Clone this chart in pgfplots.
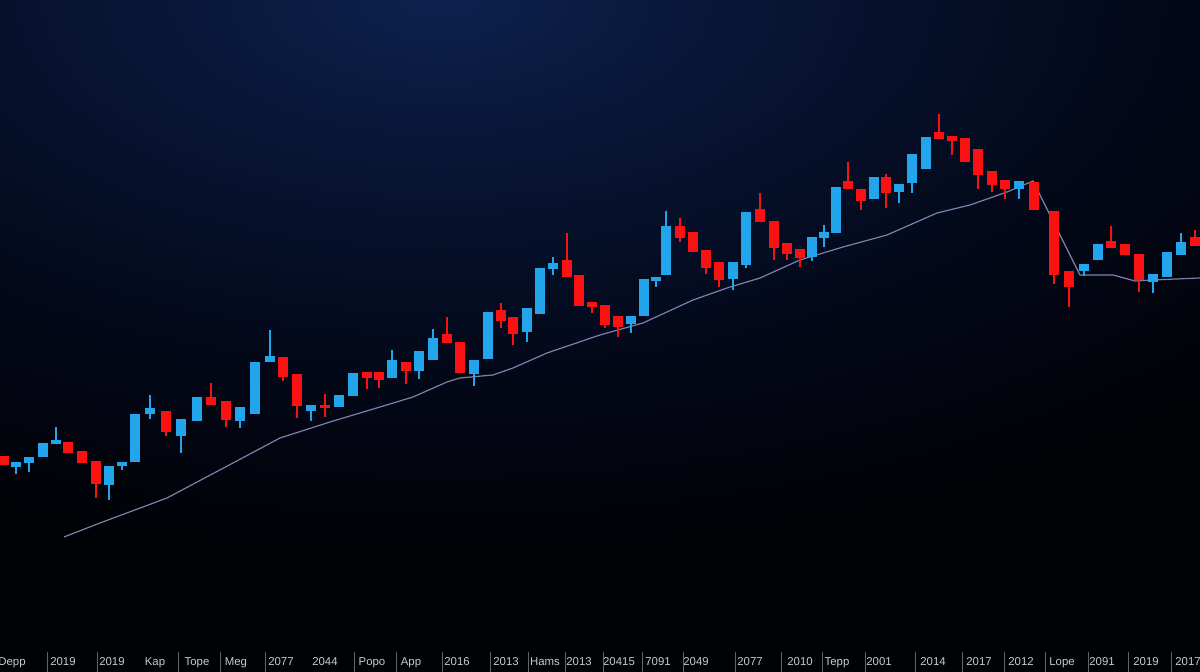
\documentclass[border=0pt]{standalone}
\usepackage{pgfplots}
\pgfplotsset{compat=1.18}
\usepackage{pgfplotstable}
\usepackage{fontspec}
\setmainfont{Liberation Sans}

\definecolor{upc}{RGB}{35,165,235}
\definecolor{downc}{RGB}{250,18,18}
\definecolor{magray}{RGB}{125,128,172}
\definecolor{lblgray}{RGB}{200,202,208}
\definecolor{sepgray}{RGB}{95,100,110}
\definecolor{glow0}{RGB}{13,34,80}
\definecolor{glow1}{RGB}{10,27,64}
\definecolor{glow2}{RGB}{6,17,44}
\definecolor{glow3}{RGB}{3,7,22}
\definecolor{glow4}{RGB}{1,2,6}

\pgfdeclareradialshading{bgglow}{\pgfpoint{0bp}{0bp}}{%
  color(0bp)=(glow0); color(15bp)=(glow1); color(40bp)=(glow2);
  color(70bp)=(glow3); color(100bp)=(glow4)}

% x open high low close
\pgfplotstableread{
x o h l c
16 205 210 198 210
29 209 215 200 215
43 215 229 215 229
56 228 245 228 232
109 187 206 172 206
122 206 210 202 210
135 210 258 210 258
150 258 277 253 264
181 236 253 219 253
197 251 275 251 275
240 251 265 244 265
255 258 310 258 310
270 310 342 310 316
311 261 267 251 267
339 265 277 265 277
353 276 299 276 299
392 294 322 294 312
419 301 321 293 321
433 312 343 312 334
474 298 312 286 312
488 313 360 313 360
527 340 364 330 364
540 358 404 358 404
553 403 415 397 409
631 348 356 339 356
644 356 393 356 393
656 391 395 385 395
666 397 461 397 446
733 393 410 382 410
746 407 460 404 460
812 415 435 411 435
824 434 447 425 440
836 439 485 439 485
874 473 495 473 495
899 480 488 469 488
912 489 518 479 518
926 503 535 503 535
1019 483 491 473 491
1084 401 408 396 408
1098 412 428 412 428
1153 390 398 379 398
1167 395 420 395 420
1181 417 439 417 430
}\upt

\pgfplotstableread{
x o h l c
4 216 216 207 207
68 230 230 219 219
82 221 221 209 209
96 211 211 174 188
166 261 261 236 240
211 275 289 267 267
226 271 271 245 252
283 315 315 291 295
297 298 298 254 266
325 267 278 255 264
367 300 300 283 294
379 300 300 284 292
406 310 310 288 301
447 338 355 329 329
460 330 330 299 299
501 362 369 344 351
513 355 355 327 338
567 412 439 395 395
579 397 397 366 366
592 370 370 359 365
605 367 367 344 347
618 356 356 335 345
680 446 454 430 434
693 440 440 420 420
706 422 422 398 404
719 410 410 385 392
760 463 479 450 450
774 451 451 412 424
787 429 429 412 418
800 423 423 405 414
848 491 510 483 483
861 483 483 462 471
886 495 498 464 479
939 540 558 533 533
952 536 536 517 531
965 534 534 510 510
978 523 523 483 497
992 501 501 480 487
1005 492 492 473 483
1034 490 490 462 462
1054 461 461 388 397
1069 401 401 365 385
1111 431 446 424 424
1125 428 428 417 417
1139 418 418 380 392
1195 435 442 426 426
}\downt

\begin{document}
\begin{tikzpicture}
\begin{scope}
  \clip (0,0) rectangle (600pt,336pt);
  \fill[glow4] (0,0) rectangle (600pt,336pt);
  \pgftransformshift{\pgfpoint{220pt}{338pt}}
  \pgftransformxscale{5.5}
  \pgftransformyscale{2.8}
  \pgflowlevelsynccm
  \pgfuseshading{bgglow}
\end{scope}
\begin{axis}[
  at={(0,0)}, anchor=south west,
  width=600pt, height=336pt, scale only axis,
  xmin=0, xmax=1200, ymin=0, ymax=672,
  axis line style={draw=none},
  ytick=\empty,
  xtick={12,63,112,155,197,236,281,325,372,411,457,506,545,579,619,658,696,750,800,837,879,933,979,1021,1062,1102,1146,1188},
  xticklabels={Depp,2019,2019,Kap,Tope,Meg,2077,2044,Popo,App,2016,2013,Hams,2013,20415,7091,2049,2077,2010,Tepp,2001,2014,2017,2012,Lope,2091,2019,2017},
  xtick style={draw=none},
  tick align=inside,
  xtick pos=bottom,
  xticklabel style={anchor=base, yshift=3pt, font=\fontsize{5.7}{6}\selectfont, text=lblgray},
  extra x ticks={47,97,178,220,265,354,396,442,490,528,565,603,642,683,735,781,822,865,915,962,1004,1045,1088,1128,1171},
  extra x tick labels={},
  extra x tick style={xtick style={draw=sepgray, line width=0.5pt}, major tick length=10pt},
]
  % moving average
  \addplot[color=magray, line width=0.6pt] coordinates {
    (64,135) (100,149) (167,174) (233,209) (280,234) (330,250) (380,265)
    (413,275) (447,290) (460,294) (493,297) (513,304) (547,319) (600,337)
    (643,349) (693,372) (727,384) (760,394) (800,412) (843,425) (887,437)
    (937,459) (970,467) (1007,480) (1033,491) (1080,397) (1113,397)
    (1135,391) (1153,392) (1200,394)};

  % wicks
  \addplot[draw=none, mark=none, error bars/.cd, y dir=both, y explicit,
    error mark=none, error bar style={draw=upc, line width=0.85pt}]
    table[x=x, y expr={(\thisrow{h}+\thisrow{l})/2}, y error expr={(\thisrow{h}-\thisrow{l})/2}] {\upt};
  \addplot[draw=none, mark=none, error bars/.cd, y dir=both, y explicit,
    error mark=none, error bar style={draw=downc, line width=0.85pt}]
    table[x=x, y expr={(\thisrow{h}+\thisrow{l})/2}, y error expr={(\thisrow{h}-\thisrow{l})/2}] {\downt};
  % bodies
  \addplot[draw=none, mark=none, error bars/.cd, y dir=both, y explicit,
    error mark=none, error bar style={draw=upc, line width=5.2pt}]
    table[x=x, y expr={(\thisrow{o}+\thisrow{c})/2}, y error expr={abs(\thisrow{o}-\thisrow{c})/2}] {\upt};
  \addplot[draw=none, mark=none, error bars/.cd, y dir=both, y explicit,
    error mark=none, error bar style={draw=downc, line width=5.2pt}]
    table[x=x, y expr={(\thisrow{o}+\thisrow{c})/2}, y error expr={abs(\thisrow{o}-\thisrow{c})/2}] {\downt};
\end{axis}
\pgfresetboundingbox
\useasboundingbox (0,0) rectangle (600pt,336pt);
\end{tikzpicture}
\end{document}
